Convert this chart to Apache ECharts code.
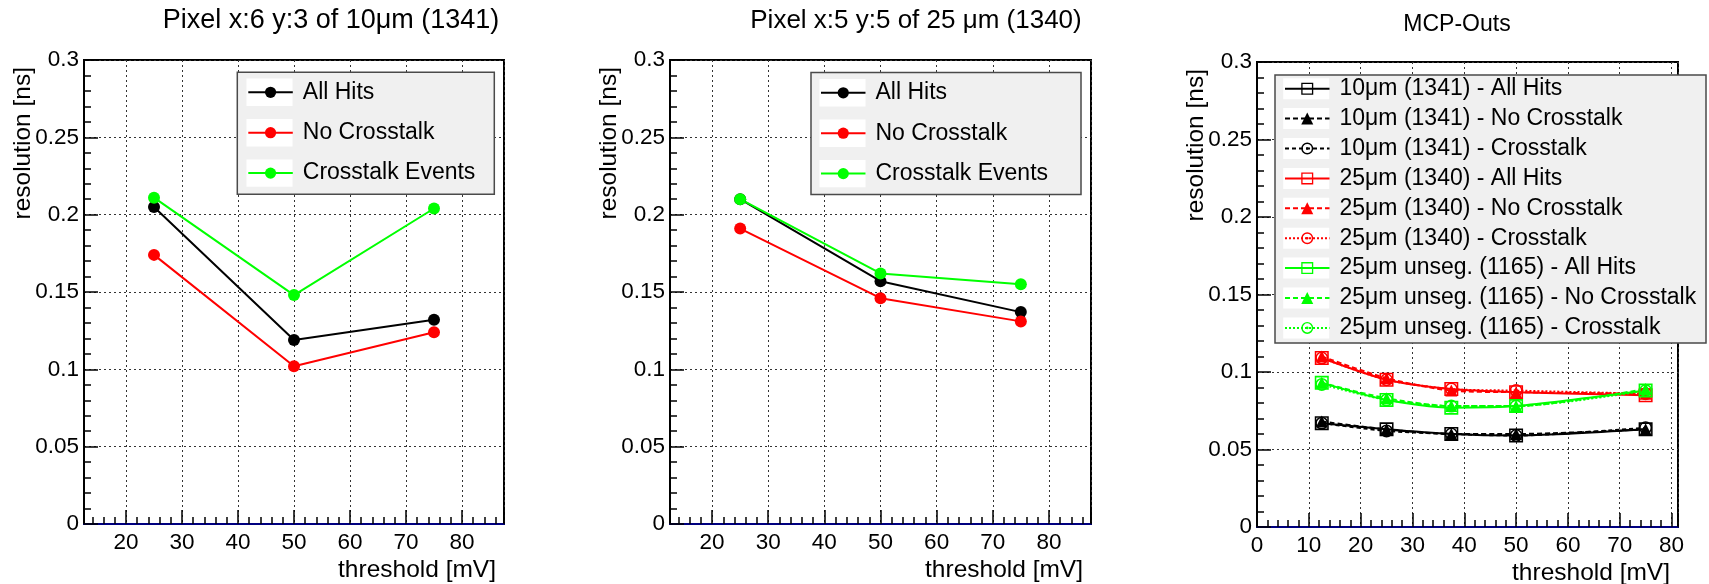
<!DOCTYPE html>
<html>
<head>
<meta charset="utf-8">
<script src="https://cdn.jsdelivr.net/npm/echarts@6/dist/echarts.min.js"></script>
<style>
  html, body { margin: 0; padding: 0; background: #fff; }
  #main { width: 1709px; height: 584px; }
</style>
</head>
<body>
<div id="main"></div>
<script>
// ---- data ----
var pixThresholds = [25, 50, 75];
var pixNames = ['All Hits', 'No Crosstalk', 'Crosstalk Events'];

// Pixel x:6 y:3 of 10um (1341)
var p1AllHits = [0.205, 0.119, 0.132];
var p1NoXtalk = [0.174, 0.102, 0.124];
var p1Xtalk   = [0.211, 0.148, 0.204];

// Pixel x:5 y:5 of 25um (1340)
var p2AllHits = [0.210, 0.157, 0.137];
var p2NoXtalk = [0.191, 0.146, 0.131];
var p2Xtalk   = [0.210, 0.162, 0.155];

// MCP-Outs
var mcpThresholds = [12.5, 25, 37.5, 50, 75];
var mcpNames = [
  '10μm (1341) - All Hits', '10μm (1341) - No Crosstalk', '10μm (1341) - Crosstalk',
  '25μm (1340) - All Hits', '25μm (1340) - No Crosstalk', '25μm (1340) - Crosstalk',
  '25μm unseg. (1165) - All Hits', '25μm unseg. (1165) - No Crosstalk', '25μm unseg. (1165) - Crosstalk'
];
var m1341All   = [0.067, 0.063, 0.060, 0.059, 0.063];
var m1341NoX   = [0.068, 0.063, 0.060, 0.060, 0.063];
var m1341Xtalk = [0.067, 0.062, 0.060, 0.059, 0.064];
var m1340All   = [0.109, 0.095, 0.089, 0.087, 0.085];
var m1340NoX   = [0.110, 0.096, 0.088, 0.087, 0.086];
var m1340Xtalk = [0.109, 0.095, 0.089, 0.088, 0.086];
var m1165All   = [0.093, 0.082, 0.077, 0.078, 0.088];
var m1165NoX   = [0.093, 0.083, 0.078, 0.078, 0.089];
var m1165Xtalk = [0.092, 0.082, 0.078, 0.078, 0.088];

var titles = ['Pixel x:6 y:3 of 10μm (1341)', 'Pixel x:5 y:5 of 25 μm (1340)', 'MCP-Outs'];
var xTitle = 'threshold [mV]';
var yTitle = 'resolution [ns]';

// ---- styling / layout ----
var FONT = '"Liberation Sans", Arial, Helvetica, sans-serif';
var BLACK = '#000000', RED = '#ff0000', GREEN = '#00ff00';
var SQUARE = 'path://M-10,-10H10V10H-10Z M-7.8,-7.8V7.8H7.8V-7.8Z';
var RING = 'path://M0,-10A10,10,0,1,1,0,10A10,10,0,1,1,0,-10Z M0,-7.6A7.6,7.6,0,1,0,0,7.6A7.6,7.6,0,1,0,0,-7.6Z M0,-2.2A2.2,2.2,0,1,1,0,2.2A2.2,2.2,0,1,1,0,-2.2Z';

var grids = [
  { left: 84, top: 60, width: 420, height: 464 },
  { left: 670, top: 60, width: 421, height: 464 },
  { left: 1257, top: 62, width: 421, height: 465 }
];

function pairs(xs, ys) {
  return xs.map(function (x, i) { return [x, ys[i]]; });
}

function xAxisFor(gi, min, max) {
  return {
    type: 'value', gridIndex: gi, position: 'bottom',
    min: min, max: max, minInterval: 10, maxInterval: 10, splitNumber: 7,
    name: xTitle, nameLocation: 'end', nameGap: -8, nameMoveOverlap: false,
    nameTextStyle: { fontFamily: FONT, fontSize: 24.5, color: '#000', align: 'right', verticalAlign: 'top', padding: [34, 0, 0, 0] },
    axisLine: { show: true, onZero: false, lineStyle: { color: '#000080', width: 2 } },
    axisTick: { show: true, inside: true, length: 14, lineStyle: { color: '#000', width: 1.5 } },
    minorTick: { show: true, splitNumber: 5, length: 7, lineStyle: { color: '#000', width: 1.5 } },
    axisLabel: {
      fontFamily: FONT, fontSize: 22.5, color: '#000', margin: 7,
      formatter: function (v) { return v % 10 === 0 ? String(v) : ''; }
    },
    splitLine: { show: true, lineStyle: { color: '#333', type: [2, 3], width: 1 } }
  };
}

function yAxisFor(gi) {
  return {
    type: 'value', gridIndex: gi, position: 'left',
    min: 0, max: 0.3, interval: 0.05,
    name: yTitle, nameLocation: 'end', nameRotate: 90, nameGap: -7, nameMoveOverlap: false,
    nameTextStyle: { fontFamily: FONT, fontSize: 24.5, color: '#000', align: 'right', verticalAlign: 'bottom', padding: [0, 0, 48, 0] },
    axisLine: { show: true, onZero: false, lineStyle: { color: '#000', width: 2 } },
    axisTick: { show: true, inside: true, length: 14, lineStyle: { color: '#000', width: 1.5 } },
    minorTick: { show: true, splitNumber: 5, length: 7, lineStyle: { color: '#000', width: 1.5 } },
    axisLabel: { fontFamily: FONT, fontSize: 22.5, color: '#000', margin: 5 },
    splitLine: { show: true, lineStyle: { color: '#333', type: [2, 3], width: 1 } }
  };
}

function pixSeries(gi, name, ys, color) {
  return {
    type: 'line', name: name, xAxisIndex: gi, yAxisIndex: gi,
    data: pairs(pixThresholds, ys),
    symbol: 'circle', symbolSize: 12,
    lineStyle: { color: color, width: 2 },
    itemStyle: { color: color },
    emphasis: { disabled: true }
  };
}

function mcpSeries(idx, ys, color, symbol, size, dash) {
  return {
    type: 'line', name: mcpNames[idx], xAxisIndex: 2, yAxisIndex: 2,
    data: pairs(mcpThresholds, ys),
    symbol: symbol, symbolSize: size, smooth: 0.25,
    lineStyle: { color: color, width: 2, type: dash },
    itemStyle: { color: color },
    emphasis: { disabled: true }
  };
}

var legendText = { fontFamily: FONT, fontSize: 23, color: '#000', lineHeight: 26, padding: [0, 0, 0, 5] };
var legendSpecs = [
  { names: pixNames, left: 247.3, top: 79.3, gap: 14.4, ih: 14, box: [237.3, 72.3, 257, 122], white: [246.5, 27.4] },
  { names: pixNames, left: 820, top: 79.8, gap: 14.4, ih: 14, box: [811, 72.6, 270, 122], white: [819.5, 27.4] },
  { names: mcpNames, left: 1284, top: 75.7, gap: 3.9, ih: 15, box: [1275, 75, 431, 268], white: [1283.2, 21] }
];

var legends = legendSpecs.map(function (s) {
  return {
    data: s.names, orient: 'vertical', left: s.left, top: s.top,
    itemWidth: 44.5, itemHeight: s.ih, itemGap: s.gap, padding: 0,
    selectedMode: false, z: 6, textStyle: legendText
  };
});

var graphics = [];
legendSpecs.forEach(function (s) {
  graphics.push({
    type: 'rect', z: 5, silent: true,
    shape: { x: s.box[0], y: s.box[1], width: s.box[2], height: s.box[3] },
    style: { fill: '#f0f0f0', stroke: '#4a4a4a', lineWidth: 1.5 }
  });
  s.names.forEach(function (n, i) {
    var c = s.top + 13 + i * (26 + s.gap);
    graphics.push({
      type: 'rect', z: 5.5, silent: true,
      shape: { x: s.white[0], y: c - s.white[1] / 2, width: 46, height: s.white[1] },
      style: { fill: '#ffffff' }
    });
  });
});

var titleStyle = { fontFamily: FONT, fontWeight: 'normal', color: '#000' };

var option = {
  animation: false,
  backgroundColor: '#fff',
  title: [
    { text: titles[0], left: 331, top: 7.5, textAlign: 'center', padding: 0, textStyle: Object.assign({ fontSize: 27 }, titleStyle) },
    { text: titles[1], left: 916, top: 8, textAlign: 'center', padding: 0, textStyle: Object.assign({ fontSize: 26 }, titleStyle) },
    { text: titles[2], left: 1457, top: 13.5, textAlign: 'center', padding: 0, textStyle: Object.assign({ fontSize: 23 }, titleStyle) }
  ],
  grid: grids.map(function (g) {
    return Object.assign({ show: true, borderColor: '#000', borderWidth: 2, backgroundColor: 'transparent', outerBoundsMode: 'none', containLabel: false }, g);
  }),
  xAxis: [xAxisFor(0, 12.5, 87.5), xAxisFor(1, 12.5, 87.5), xAxisFor(2, 0, 81.25)],
  yAxis: [yAxisFor(0), yAxisFor(1), yAxisFor(2)],
  legend: legends,
  graphic: { elements: graphics },
  series: [
    pixSeries(0, pixNames[0], p1AllHits, BLACK),
    pixSeries(0, pixNames[1], p1NoXtalk, RED),
    pixSeries(0, pixNames[2], p1Xtalk, GREEN),
    pixSeries(1, pixNames[0], p2AllHits, BLACK),
    pixSeries(1, pixNames[1], p2NoXtalk, RED),
    pixSeries(1, pixNames[2], p2Xtalk, GREEN),
    mcpSeries(0, m1341All, BLACK, SQUARE, 14, 'solid'),
    mcpSeries(1, m1341NoX, BLACK, 'triangle', 12, [5, 3]),
    mcpSeries(2, m1341Xtalk, BLACK, RING, 13, [4, 3]),
    mcpSeries(3, m1340All, RED, SQUARE, 14, 'solid'),
    mcpSeries(4, m1340NoX, RED, 'triangle', 12, [5, 3]),
    mcpSeries(5, m1340Xtalk, RED, RING, 13, [2, 2]),
    mcpSeries(6, m1165All, GREEN, SQUARE, 14, 'solid'),
    mcpSeries(7, m1165NoX, GREEN, 'triangle', 12, [5, 3]),
    mcpSeries(8, m1165Xtalk, GREEN, RING, 13, [2, 2])
  ]
};

var chart = echarts.init(document.getElementById('main'), null, { renderer: 'canvas' });
chart.setOption(option);
</script>
</body>
</html>
